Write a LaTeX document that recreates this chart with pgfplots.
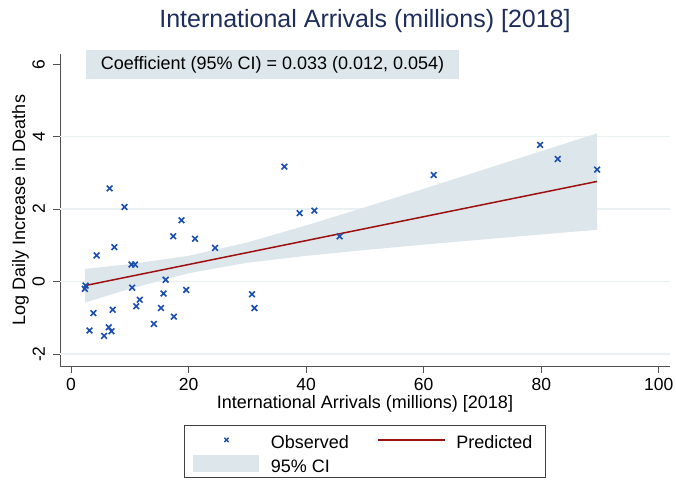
\documentclass[border=0pt]{standalone}
\usepackage{fontspec}
\setmainfont{Liberation Sans}
\usepackage{pgfplots}
\pgfplotsset{compat=1.18}
\definecolor{ciblue}{RGB}{221,230,235}
\definecolor{gridcol}{RGB}{233,241,243}
\definecolor{linered}{RGB}{158,16,16}
\definecolor{markblue}{RGB}{26,78,176}
\definecolor{titlecol}{RGB}{30,45,92}
\definecolor{axiscol}{RGB}{80,80,80}
\begin{document}
\begin{tikzpicture}
\begin{axis}[
  width=610pt, height=312pt, scale only axis,
  xmin=-1.87, xmax=101.9, ymin=-2.33, ymax=6.28,
  clip=false,
  axis lines=left, axis line style={-, axiscol, line width=0.8pt},
  every tick/.style={axiscol, line width=0.8pt},
  tick align=outside, major tick length=6.5pt,
  xtick={0,20,40,60,80,100}, ytick={-2,0,2,4,6},
  extra y ticks={-2,0,2,4}, extra y tick labels={},
  extra y tick style={grid=major, major tick length=0pt},
  major grid style={gridcol, line width=1.3pt},
  /pgf/number format/assume math mode=true,
  ticklabel style={font=\fontsize{17.5}{20}\selectfont},
  yticklabel shift=8.5pt,
  yticklabel style={rotate=90, anchor=south, inner sep=0pt},
  xticklabel style={anchor=north, inner sep=0pt, yshift=-6pt},
  title={International Arrivals (millions) [2018]},
  title style={at={(0.5,1.0663)}, anchor=base, font=\fontsize{25}{30}\selectfont, color=titlecol, inner sep=0pt},
  xlabel={International Arrivals (millions) [2018]},
  xlabel style={at={(axis description cs:0.5,-0.1346)}, anchor=base, font=\fontsize{18}{21}\selectfont, inner sep=0pt},
  ylabel={Log Daily Increase in Deaths},
  ylabel style={at={(axis description cs:-0.05738,0.5)}, anchor=base, font=\fontsize{18}{21}\selectfont, inner sep=0pt},
  legend columns=2, reverse legend,
  legend cell align=left,
  legend style={at={(axis description cs:0.5,-0.1900)}, anchor=north,
    draw=black!75, line width=0.7pt, inner xsep=8.5pt, inner ysep=2.5pt,
    font=\fontsize{18}{21}\selectfont,
    nodes={inner xsep=5pt, inner ysep=2.8pt, text height=18pt, text depth=0pt},
    /tikz/every odd column/.append style={column sep=5.7pt},
    /tikz/every even column/.append style={column sep=23pt}},
]
\coordinate (O) at (rel axis cs:0,0);
% coefficient box
\fill[ciblue] (axis cs:2.55,6.39) rectangle (axis cs:66.01,5.58);
\node[anchor=west, inner sep=0pt, font=\fontsize{18}{21}\selectfont] at (axis cs:5.05,5.985) {Coefficient (95\% CI) = 0.033 (0.012, 0.054)};
% 95% CI
\addplot[fill=ciblue, draw=none,
  legend image code/.code={\fill[ciblue] (0pt,-8.2pt) rectangle (66pt,8.2pt);}]
  coordinates {
  (2.35,0.35) (10,0.48) (20,0.71) (30,1.08) (40,1.55) (50,2.05) (60,2.56) (70,3.08) (80,3.60) (89.5,4.09)
  (89.5,1.43) (80,1.30) (70,1.16) (60,1.02) (50,0.87) (40,0.71) (30,0.52) (20,0.23) (10,-0.20) (2.35,-0.58)
  };
\addlegendentry{95\% CI}
% Predicted
\addplot[linered, line width=1.5pt,
  legend image code/.code={\draw[draw=linered, line width=1.6pt] (0pt,0pt) -- (67pt,0pt);}]
  coordinates {(2.35,-0.112) (89.5,2.764)};
\addlegendentry{Predicted}
% Observed
\addplot[only marks, mark=x, mark size=4pt, markblue, line width=1.6pt,
  legend image code/.code={\path (0pt,0pt) (66pt,0pt); \draw[only marks, mark=x, mark size=3pt, markblue, line width=1.4pt] plot coordinates {(33pt,0pt)};}]
  coordinates {
  (79.8,3.77) (82.8,3.38) (89.5,3.09) (61.7,2.94) (36.3,3.17) (6.57,2.57) (9.1,2.06)
  (38.9,1.89) (41.4,1.96) (18.8,1.69) (17.4,1.25) (21.1,1.18) (45.7,1.25) (24.5,0.93)
  (7.37,0.95) (4.36,0.72) (10.3,0.47) (10.9,0.47) (16.1,0.05) (2.48,-0.11) (2.35,-0.20)
  (10.4,-0.17) (19.6,-0.23) (15.75,-0.33) (30.8,-0.35) (11.7,-0.50) (11.1,-0.68)
  (15.3,-0.73) (31.2,-0.73) (7.1,-0.78) (3.82,-0.87) (17.5,-0.97) (14.1,-1.17)
  (6.43,-1.26) (3.15,-1.35) (6.9,-1.37) (5.63,-1.50)
  };
\addlegendentry{Observed}
\end{axis}
\pgfresetboundingbox
\path (O) ++(-60pt,-117pt) rectangle ++(676pt,483pt);
\end{tikzpicture}
\end{document}
